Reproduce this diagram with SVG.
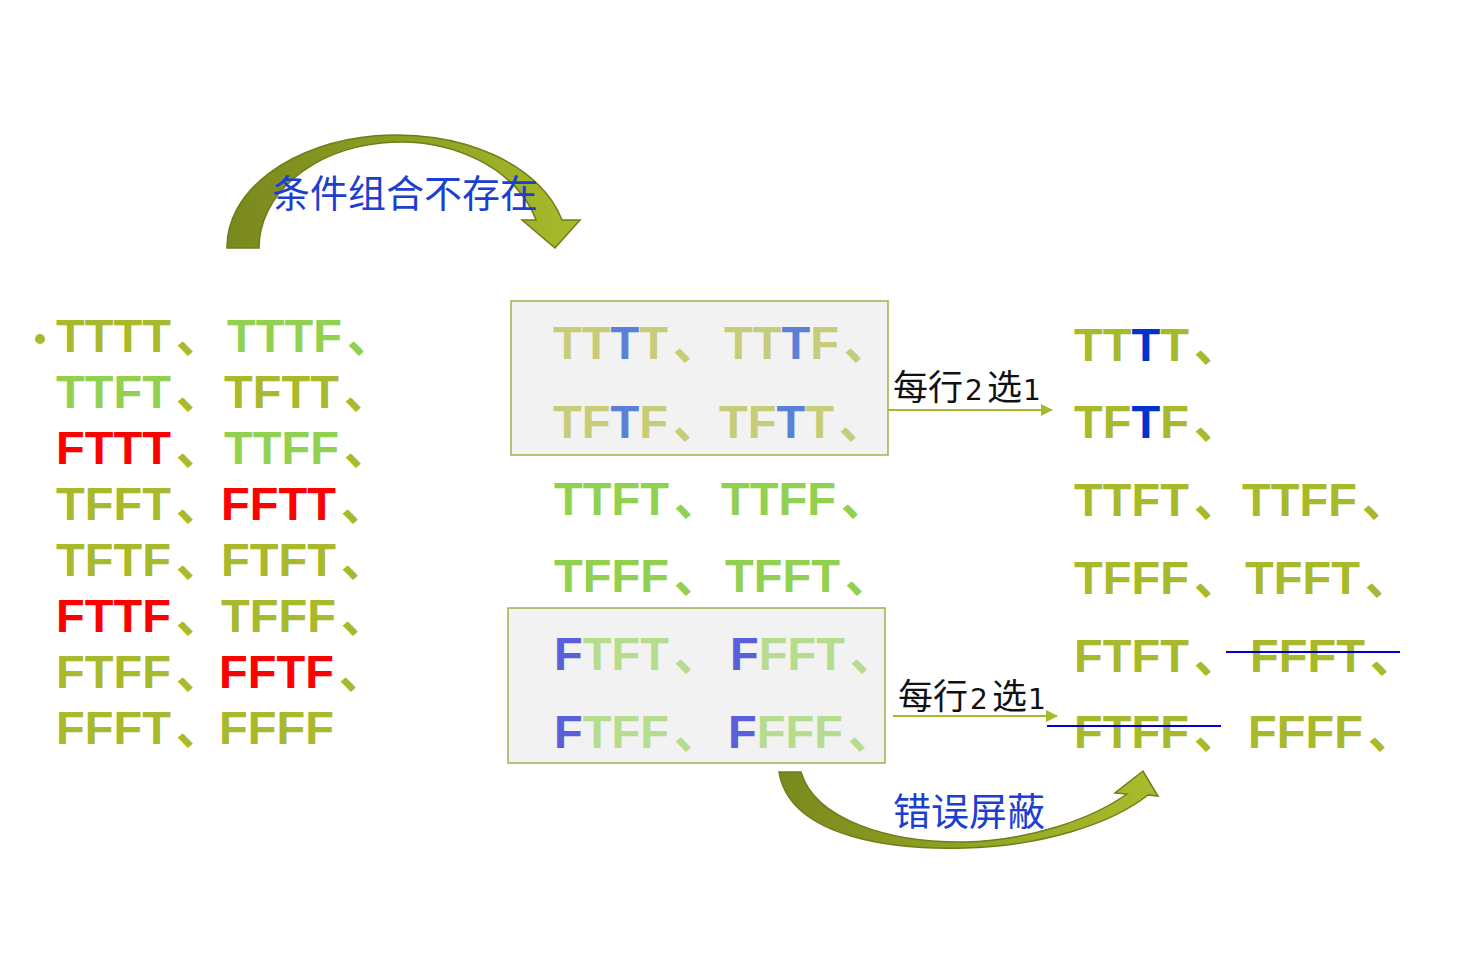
<svg xmlns="http://www.w3.org/2000/svg" width="1460" height="978" viewBox="0 0 1460 978">
<defs>
<linearGradient id="gTop" x1="0" y1="0" x2="1" y2="0">
<stop offset="0" stop-color="#7A891D"/>
<stop offset="0.5" stop-color="#8E9E22"/>
<stop offset="1" stop-color="#A9BB2B"/>
</linearGradient>
<linearGradient id="gBot" x1="0" y1="0" x2="1" y2="0">
<stop offset="0" stop-color="#7A891D"/>
<stop offset="0.5" stop-color="#93A324"/>
<stop offset="1" stop-color="#AABC2C"/>
</linearGradient>
<marker id="ah" markerWidth="12" markerHeight="12" refX="11" refY="6" orient="auto" markerUnits="userSpaceOnUse">
<path d="M0,0 L12,6 L0,12 Z" fill="#A8B92B"/>
</marker>
<style>
.w{font-family:"Liberation Sans","Noto Sans CJK SC",sans-serif;font-weight:bold;font-size:47px}
.o{fill:#A8B92B}.g{fill:#92D050}.r{fill:#FF0000}
.po{fill:#C6CC78}.pb{fill:#5B80D8}.pg{fill:#B6DC8E}.pv{fill:#5B5FD9}.b{fill:#0033CC}
.cj{font-family:"Noto Sans CJK SC",sans-serif;font-size:38px;fill:#1C3FD0}
.lb{font-family:"Noto Sans CJK SC",sans-serif;font-size:35px;fill:#111}
.dg{font-family:"DejaVu Sans",sans-serif;font-size:28px}
.box{fill:#F2F2F2;stroke:#A2AE4C;stroke-width:1.5}
.conn{stroke:#A8B92B;stroke-width:2;fill:none}
.strike{stroke:#0000CC;stroke-width:2}
</style>
</defs>

<g id="left-list" class="w">
<circle cx="40" cy="339" r="5" fill="#A8B92B"/>
<text x="56" y="352"><tspan class="o">TTTT</tspan><tspan class="o" dx="5">、</tspan></text>
<text x="227" y="352"><tspan class="g">TTTF</tspan><tspan class="g" dx="5">、</tspan></text>
<text x="56" y="408"><tspan class="g">TTFT</tspan><tspan class="o" dx="5">、</tspan></text>
<text x="224" y="408"><tspan class="o">TFTT</tspan><tspan class="o" dx="5">、</tspan></text>
<text x="56" y="464"><tspan class="r">FTTT</tspan><tspan class="o" dx="5">、</tspan></text>
<text x="224" y="464"><tspan class="g">TTFF</tspan><tspan class="o" dx="5">、</tspan></text>
<text x="56" y="520"><tspan class="o">TFFT</tspan><tspan class="o" dx="5">、</tspan></text>
<text x="221" y="520"><tspan class="r">FFTT</tspan><tspan class="o" dx="5">、</tspan></text>
<text x="56" y="576"><tspan class="o">TFTF</tspan><tspan class="o" dx="5">、</tspan></text>
<text x="221" y="576"><tspan class="o">FTFT</tspan><tspan class="o" dx="5">、</tspan></text>
<text x="56" y="632"><tspan class="r">FTTF</tspan><tspan class="o" dx="5">、</tspan></text>
<text x="221" y="632"><tspan class="o">TFFF</tspan><tspan class="o" dx="5">、</tspan></text>
<text x="56" y="688"><tspan class="o">FTFF</tspan><tspan class="o" dx="5">、</tspan></text>
<text x="219" y="688"><tspan class="r">FFTF</tspan><tspan class="o" dx="5">、</tspan></text>
<text x="56" y="744"><tspan class="o">FFFT</tspan><tspan class="o" dx="5">、</tspan></text>
<text x="219" y="744"><tspan class="o">FFFF</tspan></text>
</g>

<g id="top-arrow">
<path d="M227,248 A170,112 0 0 1 562,220 L580,220 L555,248 L522,220 L536,220 A141,106 0 0 0 259,248 Z" fill="url(#gTop)" stroke="#6E7D19" stroke-width="1.5"/>
<text class="cj" x="272" y="207">条件组合不存在</text>
</g>

<g id="box-top">
<rect class="box" x="511" y="301" width="377" height="154"/>
<text class="w" x="553" y="359"><tspan class="po">TT</tspan><tspan class="pb">T</tspan><tspan class="po">T</tspan><tspan class="po" dx="5">、</tspan></text>
<text class="w" x="724" y="359"><tspan class="po">TT</tspan><tspan class="pb">T</tspan><tspan class="po">F</tspan><tspan class="po" dx="5">、</tspan></text>
<text class="w" x="553" y="438"><tspan class="po">TF</tspan><tspan class="pb">T</tspan><tspan class="po">F</tspan><tspan class="po" dx="5">、</tspan></text>
<text class="w" x="719" y="438"><tspan class="po">TF</tspan><tspan class="pb">T</tspan><tspan class="po">T</tspan><tspan class="po" dx="5">、</tspan></text>
</g>

<g id="middle-rows" class="w">
<text x="554" y="515" class="g">TTFT<tspan dx="5">、</tspan></text>
<text x="721" y="515" class="g">TTFF<tspan dx="5">、</tspan></text>
<text x="554" y="592" class="g">TFFF<tspan dx="5">、</tspan></text>
<text x="725" y="592" class="g">TFFT<tspan dx="5">、</tspan></text>
</g>

<g id="box-bottom">
<rect class="box" x="508" y="608" width="377" height="155"/>
<text class="w" x="554" y="670"><tspan class="pv">F</tspan><tspan class="pg">TFT</tspan><tspan class="pg" dx="5">、</tspan></text>
<text class="w" x="730" y="670"><tspan class="pv">F</tspan><tspan class="pg">FFT</tspan><tspan class="pg" dx="5">、</tspan></text>
<text class="w" x="554" y="748"><tspan class="pv">F</tspan><tspan class="pg">TFF</tspan><tspan class="pg" dx="5">、</tspan></text>
<text class="w" x="728" y="748"><tspan class="pv">F</tspan><tspan class="pg">FFF</tspan><tspan class="pg" dx="5">、</tspan></text>
</g>

<g id="right-list" class="w">
<text x="1074" y="361"><tspan class="o">TT</tspan><tspan class="b">T</tspan><tspan class="o">T</tspan><tspan class="o" dx="5">、</tspan></text>
<text x="1074" y="438"><tspan class="o">TF</tspan><tspan class="b">T</tspan><tspan class="o">F</tspan><tspan class="o" dx="5">、</tspan></text>
<text x="1074" y="516" class="o">TTFT<tspan dx="5">、</tspan></text>
<text x="1242" y="516" class="o">TTFF<tspan dx="5">、</tspan></text>
<text x="1074" y="594" class="o">TFFF<tspan dx="5">、</tspan></text>
<text x="1245" y="594" class="o">TFFT<tspan dx="5">、</tspan></text>
<text x="1074" y="672" class="o">FTFT<tspan dx="5">、</tspan></text>
<text x="1250" y="672" class="o">FFFT<tspan dx="5">、</tspan></text>
<text x="1074" y="748" class="o">FTFF<tspan dx="5">、</tspan></text>
<text x="1248" y="748" class="o">FFFF<tspan dx="5">、</tspan></text>
</g>

<g id="label-1">
<text class="lb" y="400"><tspan x="893">每行</tspan><tspan class="dg" x="965">2</tspan><tspan x="987">选</tspan><tspan class="dg" x="1023">1</tspan></text>
</g>
<g id="label-2">
<text class="lb" y="709"><tspan x="898">每行</tspan><tspan class="dg" x="970">2</tspan><tspan x="992">选</tspan><tspan class="dg" x="1028">1</tspan></text>
</g>

<g id="bottom-arrow">
<path d="M779,772 C790,840 900,850 965,848 C1040,846 1110,825 1148,795 L1158,796 L1143,771 L1115,793 L1127,794 C1090,820 1030,840 965,842 C890,843 815,820 801,772 Z" fill="url(#gBot)" stroke="#6E7D19" stroke-width="1.5"/>
<text class="cj" x="893" y="825">错误屏蔽</text>
</g>

<g id="connectors">
<line class="conn" x1="888" y1="410" x2="1052" y2="410" marker-end="url(#ah)"/>
<line class="conn" x1="893" y1="716" x2="1057" y2="716" marker-end="url(#ah)"/>
<line class="strike" x1="1226" y1="652" x2="1400" y2="652"/>
<line class="strike" x1="1047" y1="726" x2="1221" y2="726"/>
</g>
</svg>
